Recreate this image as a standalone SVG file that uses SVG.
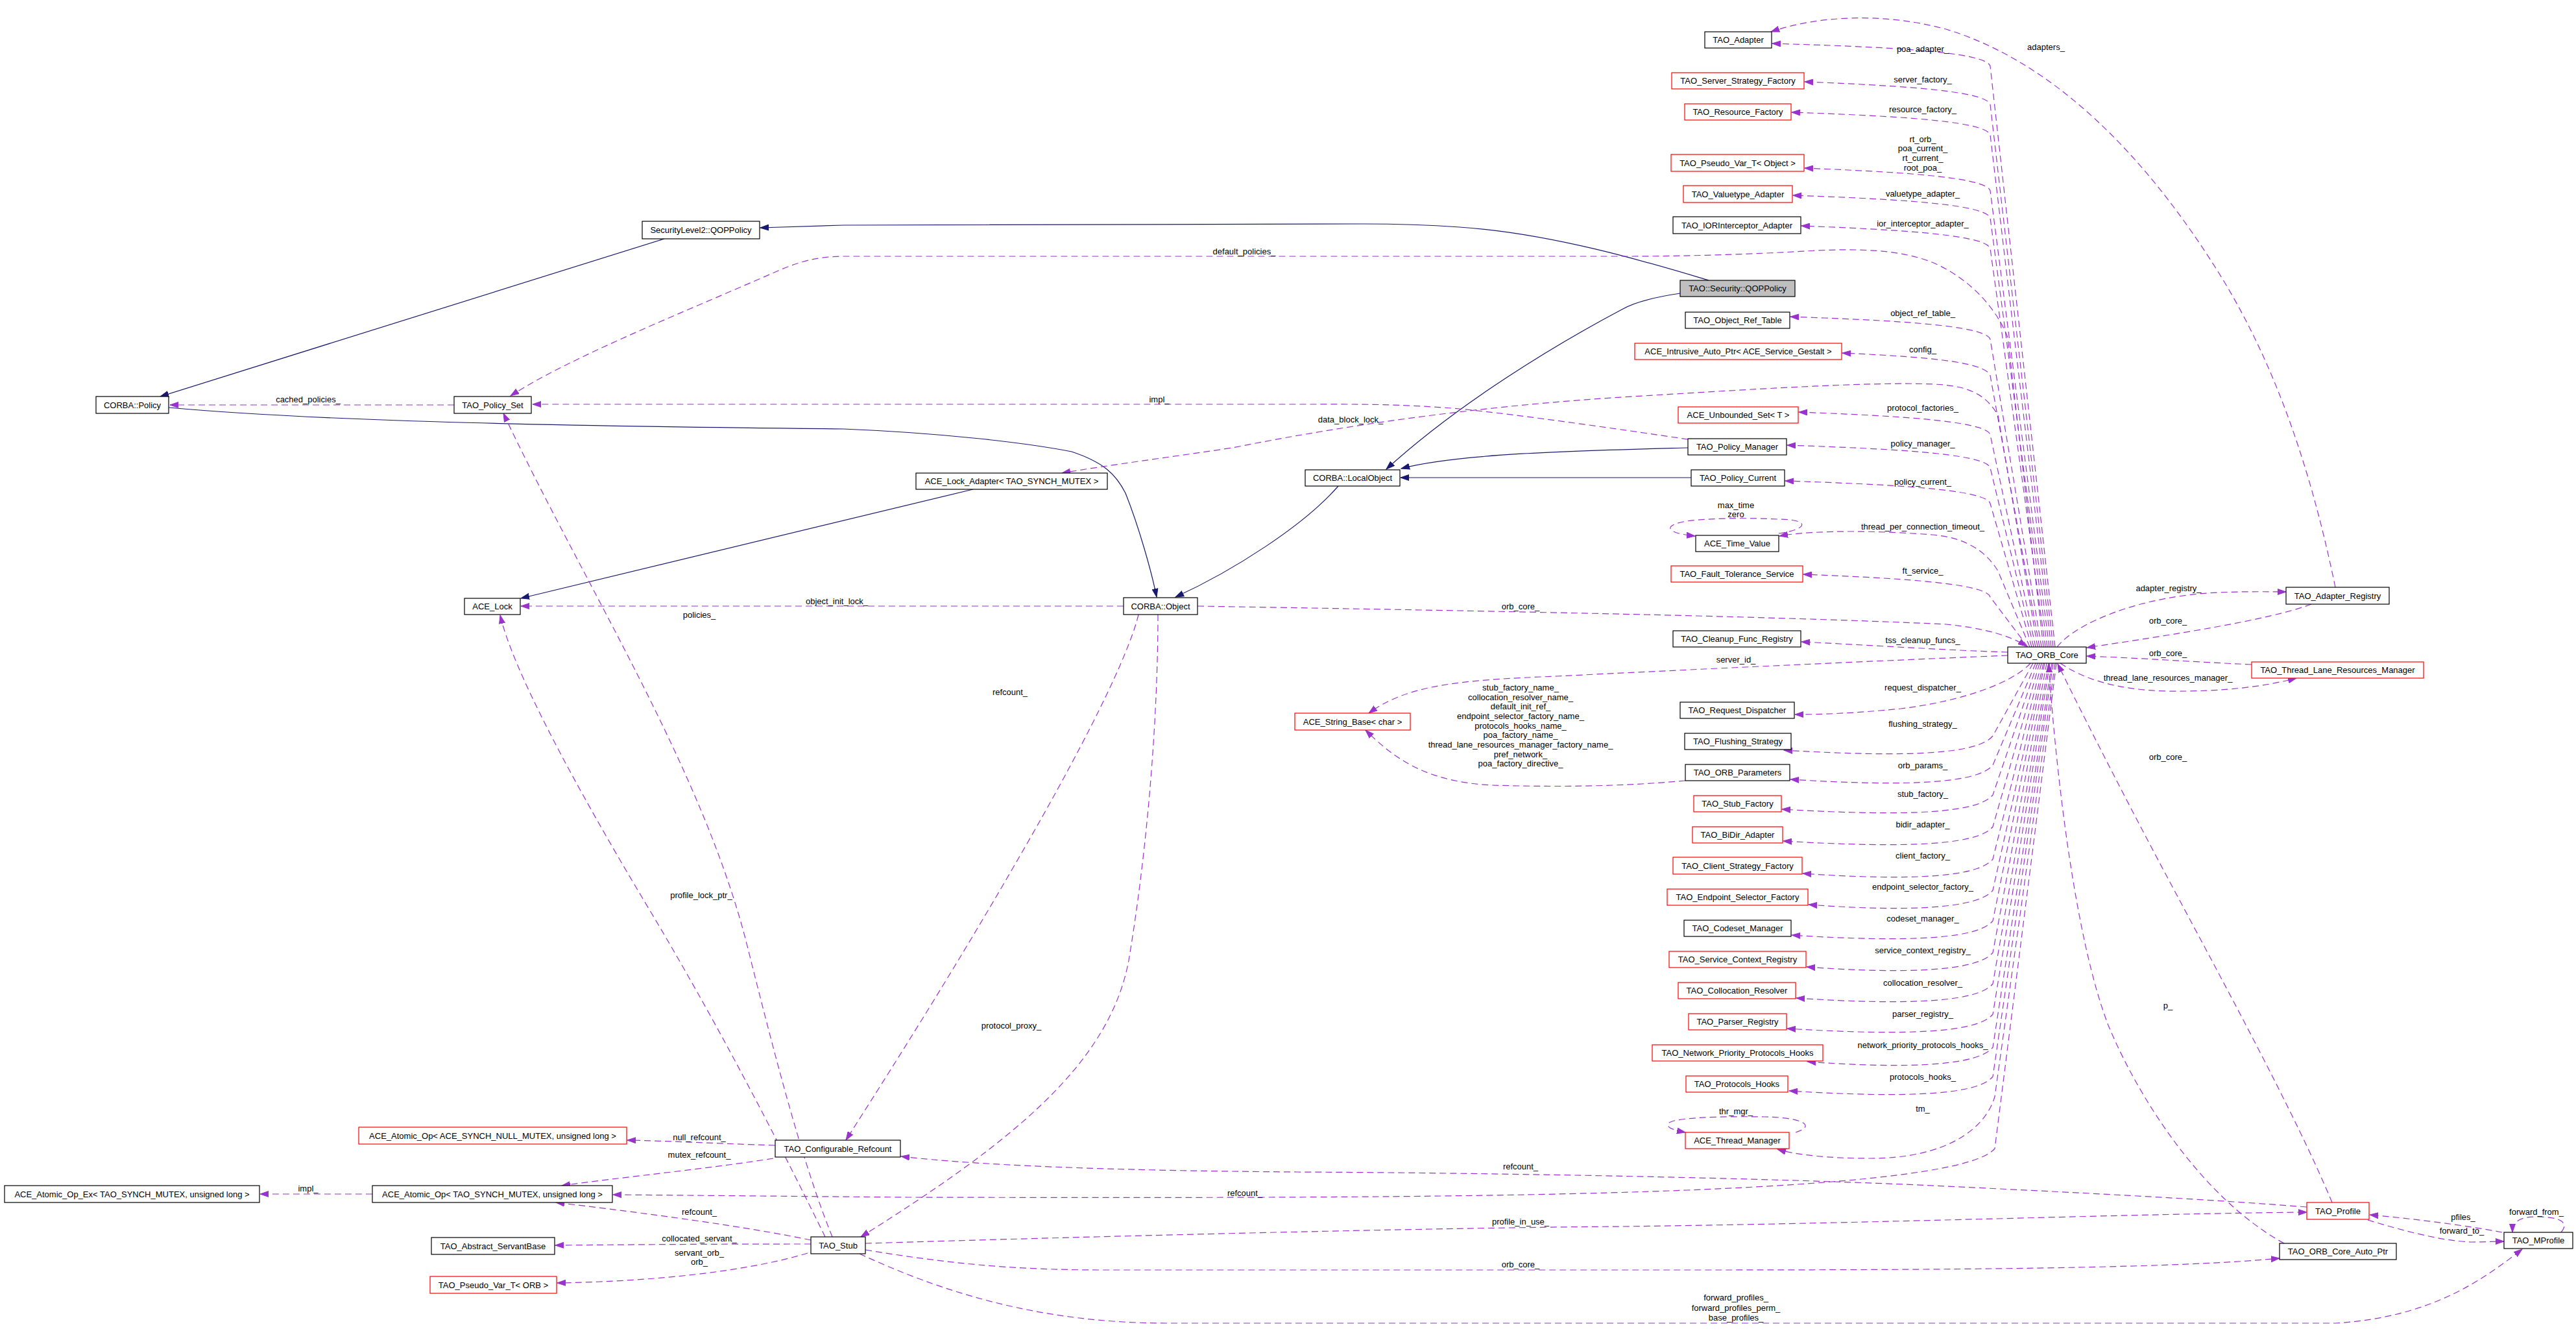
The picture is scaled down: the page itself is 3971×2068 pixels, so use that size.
<svg xmlns="http://www.w3.org/2000/svg" width="3971" height="2068" viewBox="0 0 3971 2068">
<style>
.n rect{fill:#fff;stroke:#000;stroke-width:1.2}
.n.r rect{stroke:#f00}
.n.g rect{fill:#bfbfbf}
text{font-family:"Liberation Sans",Arial,sans-serif;font-size:13px;fill:#000;text-anchor:middle}
.e{fill:none;stroke:#9a32cd;stroke-width:1.2;stroke-dasharray:10,6;marker-end:url(#ap)}
.i{fill:none;stroke:#191970;stroke-width:1.2;marker-end:url(#an)}
</style>
<defs>
<marker id="ap" markerUnits="userSpaceOnUse" markerWidth="14" markerHeight="10" viewBox="0 0 14 10" refX="13" refY="5" orient="auto"><path d="M0,0.5 L13,5 L0,9.5 z" fill="#9a32cd" stroke="#9a32cd" stroke-width="1"/></marker>
<marker id="an" markerUnits="userSpaceOnUse" markerWidth="14" markerHeight="10" viewBox="0 0 14 10" refX="13" refY="5" orient="auto"><path d="M0,0.5 L13,5 L0,9.5 z" fill="#191970" stroke="#191970" stroke-width="1"/></marker>
</defs>
<rect width="3971" height="2068" fill="#fff"/>
<g id="connectors">
<path class="i" d="M2634,432 C2560,410 2400,360 2250,350 C2180,345 2120,345 2100,345 L1300,347 L1172,351"/>
<path class="i" d="M1024,368 L247,611"/>
<path class="i" d="M260,628 C500,650 900,657 1300,661 C1450,667 1580,682 1652,696 C1700,712 1720,730 1735,760 C1755,810 1775,880 1783,920"/>
<path class="i" d="M2063,749 C2010,810 1900,880 1812,920"/>
<path class="i" d="M2590,452 C2550,458 2520,465 2500,477 C2400,530 2250,620 2137,723"/>
<path class="i" d="M2602,690 C2450,694 2250,698 2160,722"/>
<path class="i" d="M2607,736 L2159,736"/>
<path class="i" d="M1500,754 L803,922"/>
<path class="e" d="M700,624 L262,624"/>
<path class="e" d="M2602,677 C2500,662 2350,640 2250,630 C2150,622 2100,623 2000,623 L821,623"/>
<path class="e" d="M3150,997 L3095,520 C3080,480 3040,430 2978,404 C2930,385 2870,383 2800,386 C2700,392 2600,395 2500,395 L1300,395 C1260,395 1230,404 1200,417 C1050,483 880,550 787,610"/>
<path class="e" d="M3141,997 L3080,640 C3060,605 3030,594 2980,592 C2880,588 2700,600 2500,612 C2300,625 2100,650 1900,690 C1800,705 1700,718 1637,729"/>
<path class="e" d="M1732,934 L803,934"/>
<path class="e" d="M1846,934 C2200,940 2700,948 3000,962 C3060,968 3100,980 3124,996"/>
<path class="e" d="M3095,1010 C2900,1018 2600,1032 2400,1042 C2250,1048 2170,1055 2110,1099"/>
<path class="e" d="M2598,1203 C2500,1212 2400,1213 2300,1210 C2200,1205 2150,1170 2105,1125"/>
<path class="e" d="M1755,947 C1745,990 1700,1100 1560,1340 C1450,1530 1340,1700 1304,1757"/>
<path class="e" d="M1785,947 C1785,1100 1770,1300 1740,1480 C1710,1640 1560,1760 1327,1906"/>
<path class="e" d="M1195,1765 C1100,1762 1030,1758 967,1757"/>
<path class="e" d="M1192,1785 C1100,1800 950,1815 866,1827"/>
<path class="e" d="M574,1840 L401,1840"/>
<path class="e" d="M1250,1911 C1150,1890 1000,1870 857,1853"/>
<path class="e" d="M1250,1917 C1100,1917 950,1918 856,1919"/>
<path class="e" d="M1245,1931 C1150,1960 1000,1975 859,1977"/>
<path class="e" d="M1283,1906 C1240,1800 1200,1650 1150,1450 C1080,1180 900,900 776,637"/>
<path class="e" d="M1272,1906 C1220,1800 1120,1600 1000,1400 C880,1200 790,1030 771,948"/>
<path class="e" d="M1334,1916 C1700,1905 2200,1892 2500,1890 C2900,1885 3300,1870 3556,1868"/>
<path class="e" d="M3556,1860 C3400,1848 3250,1840 3000,1828 C2800,1818 2400,1808 2000,1806 C1700,1804 1500,1795 1389,1782"/>
<path class="e" d="M1334,1926 C1450,1945 1550,1957 1700,1957 L2600,1957 C3000,1957 3350,1955 3514,1939"/>
<path class="e" d="M1325,1932 C1450,1990 1600,2039 1800,2039 L3600,2039 C3750,2030 3830,1970 3888,1925"/>
<path class="e" d="M3168,997 L3068,102 C3062,79 2900,72 2732,67"/>
<path class="e" d="M3165,997 L3068,161 C3062,138 2900,131 2782,126"/>
<path class="e" d="M3162,997 L3068,208 C3062,185 2900,178 2762,173"/>
<path class="e" d="M3159,997 L3068,294 C3062,271 2900,264 2782,259"/>
<path class="e" d="M3156,997 L3068,336 C3062,313 2900,306 2764,301"/>
<path class="e" d="M3153,997 L3068,383 C3062,360 2900,353 2777,348"/>
<path class="e" d="M3147,997 L3068,523 C3062,500 2900,493 2760,488"/>
<path class="e" d="M3144,997 L3068,579 C3062,556 2950,549 2840,544"/>
<path class="e" d="M3138,997 L3068,670 C3062,647 2900,640 2773,635"/>
<path class="e" d="M3135,997 L3068,721 C3062,698 2900,691 2755,686"/>
<path class="e" d="M3132,997 L3068,776 C3062,753 2900,746 2752,741"/>
<path class="e" d="M3129,997 L3080,880 C3062,850 3030,828 2978,824 C2900,818 2800,816 2743,826"/>
<path class="e" d="M3126,997 L3068,920 C3062,897 2900,890 2780,885"/>
<path class="e" d="M2742,822 C2790,815 2790,800 2740,800 C2700,798 2640,798 2600,803 C2560,810 2570,822 2613,826"/>
<path class="e" d="M3095,1005 C3000,1002 2880,994 2777,989"/>
<path class="e" d="M3130,1022 C3105,1050 3030,1080 2930,1092 C2860,1099 2810,1101 2767,1101"/>
<path class="e" d="M3134,1022 L3072,1134 C3050,1161 2950,1168 2750,1156"/>
<path class="e" d="M3138,1022 L3072,1179 C3050,1206 2950,1213 2760,1201"/>
<path class="e" d="M3141,1022 L3072,1225 C3050,1252 2950,1259 2747,1247"/>
<path class="e" d="M3144,1022 L3072,1274 C3050,1301 2950,1308 2749,1296"/>
<path class="e" d="M3147,1022 L3072,1324 C3050,1351 2950,1358 2779,1346"/>
<path class="e" d="M3150,1022 L3072,1372 C3050,1399 2950,1406 2788,1394"/>
<path class="e" d="M3152,1022 L3072,1419 C3050,1446 2950,1453 2762,1441"/>
<path class="e" d="M3155,1022 L3072,1468 C3050,1495 2950,1502 2785,1490"/>
<path class="e" d="M3158,1022 L3072,1516 C3050,1543 2950,1550 2769,1538"/>
<path class="e" d="M3160,1022 L3072,1563 C3050,1590 2950,1597 2755,1585"/>
<path class="e" d="M3163,1022 L3072,1614 C3050,1641 2950,1648 2786,1636"/>
<path class="e" d="M3165,1022 L3072,1659 C3050,1686 2950,1693 2758,1681"/>
<path class="e" d="M3168,1022 L3075,1690 C3060,1740 3000,1785 2883,1785 C2820,1785 2770,1780 2740,1771"/>
<path class="e" d="M2768,1745 C2800,1735 2780,1722 2720,1721 C2650,1720 2580,1722 2572,1731 C2568,1737 2578,1741 2598,1745"/>
<path class="e" d="M3170,1022 L3075,1770 C3050,1800 2900,1822 2600,1834 C2300,1846 1900,1846 1400,1845 L945,1841"/>
<path class="e" d="M3171,997 C3200,960 3300,918 3420,913 C3470,911 3500,912 3524,912"/>
<path class="e" d="M3563,931 C3500,955 3350,978 3217,998"/>
<path class="e" d="M3471,1024 C3380,1020 3300,1014 3217,1011"/>
<path class="e" d="M3176,1022 C3210,1045 3260,1063 3340,1065 C3430,1066 3490,1058 3540,1045"/>
<path class="e" d="M3600,905 C3570,760 3520,580 3420,420 C3320,260 3180,100 3000,45 C2900,18 2800,25 2730,49"/>
<path class="e" d="M3521,1916 C3400,1850 3300,1700 3250,1580 C3200,1450 3170,1200 3158,1023"/>
<path class="e" d="M3595,1853 C3540,1720 3420,1500 3340,1350 C3260,1200 3200,1080 3172,1023"/>
<path class="e" d="M3857,1899 C3800,1888 3720,1878 3653,1872"/>
<path class="e" d="M3650,1880 C3700,1895 3760,1912 3810,1914 C3830,1914 3845,1913 3860,1913"/>
<path class="e" d="M3948,1899 C3960,1885 3950,1875 3910,1875 C3885,1875 3873,1882 3873,1899"/>
<g id="edge-labels">
<text x="475" y="620">cached_policies_</text>
<text x="1787" y="620">impl_</text>
<text x="1918" y="392">default_policies_</text>
<text x="2082" y="651">data_block_lock_</text>
<text x="1290" y="931">object_init_lock_</text>
<text x="1078" y="952">policies_</text>
<text x="2344" y="939">orb_core_</text>
<text x="1557" y="1071">refcount_</text>
<text x="1081" y="1384">profile_lock_ptr_</text>
<text x="1559" y="1585">protocol_proxy_</text>
<text x="2344" y="1064">stub_factory_name_</text>
<text x="2344" y="1079">collocation_resolver_name_</text>
<text x="2344" y="1093">default_init_ref_</text>
<text x="2344" y="1107.5">endpoint_selector_factory_name_</text>
<text x="2344" y="1122.5">protocols_hooks_name_</text>
<text x="2344" y="1137">poa_factory_name_</text>
<text x="2344" y="1152">thread_lane_resources_manager_factory_name_</text>
<text x="2344" y="1167">pref_network_</text>
<text x="2344" y="1181">poa_factory_directive_</text>
<text x="1078" y="1757">null_refcount_</text>
<text x="1078" y="1784">mutex_refcount_</text>
<text x="475" y="1836">impl_</text>
<text x="1078" y="1872">refcount_</text>
<text x="1078" y="1913">collocated_servant_</text>
<text x="1078" y="1935">servant_orb_</text>
<text x="1078" y="1949">orb_</text>
<text x="2344" y="1802">refcount_</text>
<text x="1919" y="1843">refcount_</text>
<text x="2344" y="1887">profile_in_use_</text>
<text x="2344" y="1953">orb_core_</text>
<text x="2676" y="2004">forward_profiles_</text>
<text x="2676" y="2019.5">forward_profiles_perm_</text>
<text x="2676" y="2034.5">base_profiles_</text>
<text x="2964" y="80">poa_adapter_</text>
<text x="2964" y="127">server_factory_</text>
<text x="2964" y="172.5">resource_factory_</text>
<text x="2964" y="218.5">rt_orb_</text>
<text x="2964" y="233">poa_current_</text>
<text x="2964" y="248">rt_current_</text>
<text x="2964" y="262.5">root_poa_</text>
<text x="2964" y="302.5">valuetype_adapter_</text>
<text x="2964" y="348.5">ior_interceptor_adapter_</text>
<text x="2964" y="487">object_ref_table_</text>
<text x="2964" y="543">config_</text>
<text x="2964" y="632.5">protocol_factories_</text>
<text x="2964" y="688">policy_manager_</text>
<text x="2964" y="747">policy_current_</text>
<text x="2676" y="782.5">max_time</text>
<text x="2676" y="797">zero</text>
<text x="2964" y="815.5">thread_per_connection_timeout_</text>
<text x="2964" y="884">ft_service_</text>
<text x="2964" y="990.5">tss_cleanup_funcs_</text>
<text x="2676" y="1020.5">server_id_</text>
<text x="2964" y="1063.5">request_dispatcher_</text>
<text x="2964" y="1119.5">flushing_strategy_</text>
<text x="2964" y="1184">orb_params_</text>
<text x="2964" y="1228">stub_factory_</text>
<text x="2964" y="1274.5">bidir_adapter_</text>
<text x="2964" y="1322.5">client_factory_</text>
<text x="2964" y="1371">endpoint_selector_factory_</text>
<text x="2964" y="1420">codeset_manager_</text>
<text x="2964" y="1469">service_context_registry_</text>
<text x="2964" y="1519">collocation_resolver_</text>
<text x="2964" y="1567">parser_registry_</text>
<text x="2964" y="1615">network_priority_protocols_hooks_</text>
<text x="2964" y="1664">protocols_hooks_</text>
<text x="2964" y="1713">tm_</text>
<text x="2676" y="1717">thr_mgr_</text>
<text x="3154" y="77">adapters_</text>
<text x="3343" y="911">adapter_registry_</text>
<text x="3342" y="961">orb_core_</text>
<text x="3342" y="1011">orb_core_</text>
<text x="3342" y="1049">thread_lane_resources_manager_</text>
<text x="3342" y="1170.5">orb_core_</text>
<text x="3342" y="1553.5">p_</text>
<text x="3797" y="1879.5">pfiles_</text>
<text x="3795" y="1901">forward_to_</text>
<text x="3910" y="1871.5">forward_from_</text>
</g>
</g>
<g id="n1" class="n"><rect x="148" y="611" width="112" height="26"/><text x="204" y="628.5">CORBA::Policy</text></g>
<g id="n2" class="n"><rect x="700" y="611" width="119" height="26"/><text x="759.5" y="628.5">TAO_Policy_Set</text></g>
<g id="n3" class="n"><rect x="990" y="341" width="181" height="27"/><text x="1080.5" y="359">SecurityLevel2::QOPPolicy</text></g>
<g id="n4" class="n"><rect x="716" y="922" width="86" height="25"/><text x="759" y="939">ACE_Lock</text></g>
<g id="n5" class="n"><rect x="1412" y="729" width="295" height="25"/><text x="1559.5" y="746">ACE_Lock_Adapter&lt; TAO_SYNCH_MUTEX &gt;</text></g>
<g id="n6" class="n"><rect x="1732" y="921" width="114" height="26"/><text x="1789" y="938.5">CORBA::Object</text></g>
<g id="n7" class="n"><rect x="2012" y="724" width="146" height="25"/><text x="2085" y="741">CORBA::LocalObject</text></g>
<g id="n8" class="n r"><rect x="1996" y="1099" width="178" height="26"/><text x="2085" y="1116.5">ACE_String_Base&lt; char &gt;</text></g>
<g id="n9" class="n r"><rect x="553" y="1737" width="413" height="26"/><text x="759.5" y="1754.5">ACE_Atomic_Op&lt; ACE_SYNCH_NULL_MUTEX, unsigned long &gt;</text></g>
<g id="n10" class="n"><rect x="1195" y="1757" width="193" height="26"/><text x="1291.5" y="1774.5">TAO_Configurable_Refcount</text></g>
<g id="n11" class="n"><rect x="7" y="1827" width="393" height="26"/><text x="203.5" y="1844.5">ACE_Atomic_Op_Ex&lt; TAO_SYNCH_MUTEX, unsigned long &gt;</text></g>
<g id="n12" class="n"><rect x="574" y="1827" width="370" height="26"/><text x="759" y="1844.5">ACE_Atomic_Op&lt; TAO_SYNCH_MUTEX, unsigned long &gt;</text></g>
<g id="n13" class="n"><rect x="665" y="1907" width="190" height="26"/><text x="760" y="1924.5">TAO_Abstract_ServantBase</text></g>
<g id="n14" class="n"><rect x="1250" y="1906" width="84" height="26"/><text x="1292" y="1923.5">TAO_Stub</text></g>
<g id="n15" class="n r"><rect x="663" y="1967" width="195" height="26"/><text x="760.5" y="1984.5">TAO_Pseudo_Var_T&lt; ORB &gt;</text></g>
<g id="n16" class="n"><rect x="2628" y="49" width="103" height="25"/><text x="2679.5" y="66">TAO_Adapter</text></g>
<g id="n17" class="n r"><rect x="2577" y="112" width="204" height="25"/><text x="2679" y="129">TAO_Server_Strategy_Factory</text></g>
<g id="n18" class="n r"><rect x="2597" y="160" width="164" height="25"/><text x="2679" y="177">TAO_Resource_Factory</text></g>
<g id="n19" class="n r"><rect x="2576" y="238" width="205" height="26"/><text x="2678.5" y="255.5">TAO_Pseudo_Var_T&lt; Object &gt;</text></g>
<g id="n20" class="n r"><rect x="2595" y="286" width="168" height="26"/><text x="2679" y="303.5">TAO_Valuetype_Adapter</text></g>
<g id="n21" class="n"><rect x="2579" y="334" width="197" height="26"/><text x="2677.5" y="351.5">TAO_IORInterceptor_Adapter</text></g>
<g id="n22" class="n g"><rect x="2590" y="432" width="177" height="25"/><text x="2678.5" y="449">TAO::Security::QOPPolicy</text></g>
<g id="n23" class="n"><rect x="2598" y="481" width="161" height="25"/><text x="2678.5" y="498">TAO_Object_Ref_Table</text></g>
<g id="n24" class="n r"><rect x="2520" y="529" width="319" height="25"/><text x="2679.5" y="546">ACE_Intrusive_Auto_Ptr&lt; ACE_Service_Gestalt &gt;</text></g>
<g id="n25" class="n r"><rect x="2587" y="627" width="185" height="25"/><text x="2679.5" y="644">ACE_Unbounded_Set&lt; T &gt;</text></g>
<g id="n26" class="n"><rect x="2602" y="676" width="152" height="25"/><text x="2678" y="693">TAO_Policy_Manager</text></g>
<g id="n27" class="n"><rect x="2607" y="724" width="144" height="25"/><text x="2679" y="741">TAO_Policy_Current</text></g>
<g id="n28" class="n"><rect x="2614" y="825" width="128" height="25"/><text x="2678" y="842">ACE_Time_Value</text></g>
<g id="n29" class="n r"><rect x="2576" y="872" width="203" height="25"/><text x="2677.5" y="889">TAO_Fault_Tolerance_Service</text></g>
<g id="n30" class="n"><rect x="2579" y="972" width="197" height="25"/><text x="2677.5" y="989">TAO_Cleanup_Func_Registry</text></g>
<g id="n31" class="n"><rect x="2590" y="1082" width="176" height="25"/><text x="2678" y="1099">TAO_Request_Dispatcher</text></g>
<g id="n32" class="n"><rect x="2597" y="1130" width="164" height="25"/><text x="2679" y="1147">TAO_Flushing_Strategy</text></g>
<g id="n33" class="n"><rect x="2598" y="1178" width="161" height="25"/><text x="2678.5" y="1195">TAO_ORB_Parameters</text></g>
<g id="n34" class="n r"><rect x="2611" y="1226" width="135" height="25"/><text x="2678.5" y="1243">TAO_Stub_Factory</text></g>
<g id="n35" class="n r"><rect x="2609" y="1274" width="139" height="25"/><text x="2678.5" y="1291">TAO_BiDir_Adapter</text></g>
<g id="n36" class="n r"><rect x="2579" y="1321" width="199" height="26"/><text x="2678.5" y="1338.5">TAO_Client_Strategy_Factory</text></g>
<g id="n37" class="n r"><rect x="2570" y="1370" width="217" height="25"/><text x="2678.5" y="1387">TAO_Endpoint_Selector_Factory</text></g>
<g id="n38" class="n"><rect x="2596" y="1418" width="165" height="25"/><text x="2678.5" y="1435">TAO_Codeset_Manager</text></g>
<g id="n39" class="n r"><rect x="2573" y="1466" width="211" height="25"/><text x="2678.5" y="1483">TAO_Service_Context_Registry</text></g>
<g id="n40" class="n r"><rect x="2587" y="1514" width="181" height="25"/><text x="2677.5" y="1531">TAO_Collocation_Resolver</text></g>
<g id="n41" class="n r"><rect x="2603" y="1562" width="151" height="25"/><text x="2678.5" y="1579">TAO_Parser_Registry</text></g>
<g id="n42" class="n r"><rect x="2547" y="1610" width="263" height="25"/><text x="2678.5" y="1627">TAO_Network_Priority_Protocols_Hooks</text></g>
<g id="n43" class="n r"><rect x="2599" y="1658" width="157" height="25"/><text x="2677.5" y="1675">TAO_Protocols_Hooks</text></g>
<g id="n44" class="n r"><rect x="2598" y="1745" width="160" height="25"/><text x="2678" y="1762">ACE_Thread_Manager</text></g>
<g id="n45" class="n"><rect x="3095" y="997" width="121" height="25"/><text x="3155.5" y="1014">TAO_ORB_Core</text></g>
<g id="n46" class="n"><rect x="3524" y="905" width="159" height="26"/><text x="3603.5" y="922.5">TAO_Adapter_Registry</text></g>
<g id="n47" class="n r"><rect x="3471" y="1020" width="265" height="25"/><text x="3603.5" y="1037">TAO_Thread_Lane_Resources_Manager</text></g>
<g id="n48" class="n r"><rect x="3556" y="1853" width="96" height="26"/><text x="3604" y="1870.5">TAO_Profile</text></g>
<g id="n49" class="n"><rect x="3514" y="1916" width="180" height="25"/><text x="3604" y="1933">TAO_ORB_Core_Auto_Ptr</text></g>
<g id="n50" class="n"><rect x="3860" y="1899" width="106" height="25"/><text x="3913" y="1916">TAO_MProfile</text></g>
</svg>
